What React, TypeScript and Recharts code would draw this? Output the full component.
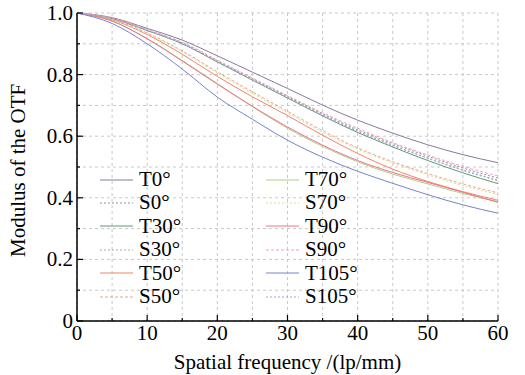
import { CartesianGrid, Legend, Line, LineChart, XAxis, YAxis } from 'recharts';

const freq = [0, 5, 10, 15, 20, 25, 30, 35, 40, 45, 50, 55, 60];

const t0 = [1.0, 0.985, 0.95, 0.912, 0.861, 0.808, 0.755, 0.701, 0.652, 0.61, 0.572, 0.54, 0.514];
const s0 = [1.0, 0.983, 0.945, 0.903, 0.845, 0.787, 0.729, 0.673, 0.621, 0.576, 0.535, 0.497, 0.464];
const t30 = [1.0, 0.982, 0.943, 0.9, 0.841, 0.782, 0.724, 0.666, 0.612, 0.565, 0.521, 0.481, 0.446];
const s30 = [1.0, 0.983, 0.944, 0.902, 0.843, 0.785, 0.727, 0.67, 0.617, 0.571, 0.529, 0.491, 0.457];
const t50 = [1.0, 0.978, 0.93, 0.866, 0.794, 0.728, 0.667, 0.603, 0.544, 0.493, 0.453, 0.42, 0.392];
const s50 = [1.0, 0.98, 0.935, 0.877, 0.809, 0.744, 0.681, 0.618, 0.562, 0.517, 0.479, 0.445, 0.416];
const t70 = [1.0, 0.974, 0.917, 0.846, 0.771, 0.696, 0.626, 0.567, 0.517, 0.477, 0.445, 0.414, 0.388];
const s70 = [1.0, 0.979, 0.932, 0.874, 0.805, 0.739, 0.676, 0.613, 0.558, 0.513, 0.475, 0.44, 0.411];
const t90 = [1.0, 0.974, 0.916, 0.844, 0.769, 0.697, 0.63, 0.571, 0.521, 0.482, 0.45, 0.418, 0.385];
const s90 = [1.0, 0.984, 0.946, 0.905, 0.847, 0.789, 0.732, 0.676, 0.626, 0.579, 0.539, 0.502, 0.471];
const t105 = [1.0, 0.966, 0.9, 0.818, 0.727, 0.655, 0.587, 0.532, 0.486, 0.447, 0.41, 0.377, 0.35];
const s105 = [1.0, 0.982, 0.943, 0.901, 0.842, 0.784, 0.726, 0.668, 0.616, 0.57, 0.528, 0.489, 0.455];

const xTicks = [0, 5, 10, 15, 20, 25, 30, 35, 40, 45, 50, 55, 60];
const yTicks = [0, 0.1, 0.2, 0.3, 0.4, 0.5, 0.6, 0.7, 0.8, 0.9, 1.0];
const yLabels: Record<string, string> = { '0': '0', '0.2': '0.2', '0.4': '0.4', '0.6': '0.6', '0.8': '0.8', '1': '1.0' };

const series = [
  { key: 'T0°', values: t0, color: '#8a7a9e', dash: undefined },
  { key: 'S0°', values: s0, color: '#9a8ca4', dash: '2 2' },
  { key: 'T30°', values: t30, color: '#5f9a72', dash: undefined },
  { key: 'S30°', values: s30, color: '#a2ae9c', dash: '2 2' },
  { key: 'T50°', values: t50, color: '#f2836c', dash: undefined },
  { key: 'S50°', values: s50, color: '#f3a08c', dash: '3 2' },
  { key: 'T70°', values: t70, color: '#a9d08a', dash: undefined },
  { key: 'S70°', values: s70, color: '#cfe08e', dash: '2 2' },
  { key: 'T90°', values: t90, color: '#ef7284', dash: undefined },
  { key: 'S90°', values: s90, color: '#f3a2b6', dash: '3 2' },
  { key: 'T105°', values: t105, color: '#7584cc', dash: undefined },
  { key: 'S105°', values: s105, color: '#a3a3de', dash: '2 2' },
];

const data = freq.map((f, i) => {
  const row: Record<string, number> = { f };
  series.forEach((s) => {
    row[s.key] = s.values[i];
  });
  return row;
});

const FONT = 'Liberation Serif, DejaVu Serif, Times New Roman, serif';

const BottomTick = (props: any) => {
  const { x, y, payload } = props;
  const major = payload.value % 10 === 0;
  return (
    <g>
      <line x1={x} y1={y} x2={x} y2={y - (major ? 6 : 3)} stroke='#000' strokeWidth={1.2} />
      {major && (
        <text x={x} y={y + 19} textAnchor='middle' fontSize={21} style={{ fontFamily: FONT }} fill='#000'>
          {payload.value}
        </text>
      )}
    </g>
  );
};

const TopTick = (props: any) => {
  const { x, y, payload } = props;
  const major = payload.value % 10 === 0;
  return <line x1={x} y1={y} x2={x} y2={y + (major ? 6 : 3)} stroke='#000' strokeWidth={1.2} />;
};

const LeftTick = (props: any) => {
  const { x, y, payload } = props;
  const label = yLabels[String(payload.value)];
  return (
    <g>
      <line x1={x} y1={y} x2={x + (label ? 6 : 3)} y2={y} stroke='#000' strokeWidth={1.2} />
      {label && (
        <text x={x - 4} y={y + 7} textAnchor='end' fontSize={21} style={{ fontFamily: FONT }} fill='#000'>
          {label}
        </text>
      )}
    </g>
  );
};

const RightTick = (props: any) => {
  const { x, y, payload } = props;
  const major = yLabels[String(payload.value)] !== undefined;
  return <line x1={x} y1={y} x2={x - (major ? 6 : 3)} y2={y} stroke='#000' strokeWidth={1.2} />;
};

const LegendBox = () => (
  <div style={{ display: 'flex', fontFamily: FONT, fontSize: 21, color: '#000' }}>
    {[series.slice(0, 6), series.slice(6)].map((col, ci) => (
      <div key={ci} style={{ width: 166 }}>
        {col.map((s) => (
          <div key={s.key} style={{ height: 23.4, lineHeight: '23.4px', display: 'flex', alignItems: 'center' }}>
            <svg width={37} height={10} style={{ marginRight: 2 }}>
              <line x1={0} y1={5} x2={33} y2={5} stroke={s.color} strokeWidth={1} strokeDasharray={s.dash} />
            </svg>
            <span>{s.key}</span>
          </div>
        ))}
      </div>
    ))}
  </div>
);

export default function App() {
  return (
    <div style={{ position: 'absolute', left: 0, top: 0, background: '#fff', fontFamily: FONT }}>
      <LineChart width={525} height={375} data={data} margin={{ top: 13, right: 27, left: 0, bottom: 0 }}>
        <CartesianGrid stroke='#c8c8c8' strokeDasharray='3 3' />
        <XAxis
          dataKey='f'
          type='number'
          domain={[0, 60]}
          ticks={xTicks}
          height={54}
          tickLine={false}
          tickSize={0}
          tickMargin={0}
          axisLine={{ stroke: '#000', strokeWidth: 1.5 }}
          tick={<BottomTick />}
          label={{ value: 'Spatial frequency /(lp/mm)', position: 'insideBottom', offset: 6, fontSize: 21, style: { fontFamily: FONT }, fill: '#000' }}
        />
        <XAxis
          xAxisId='top'
          orientation='top'
          dataKey='f'
          type='number'
          domain={[0, 60]}
          ticks={xTicks}
          height={0}
          tickLine={false}
          tickSize={0}
          tickMargin={0}
          axisLine={{ stroke: '#000', strokeWidth: 1.5 }}
          tick={<TopTick />}
        />
        <YAxis
          type='number'
          domain={[0, 1]}
          ticks={yTicks}
          width={77}
          tickLine={false}
          tickSize={0}
          tickMargin={0}
          axisLine={{ stroke: '#000', strokeWidth: 1.5 }}
          tick={<LeftTick />}
          label={{ value: 'Modulus of the OTF', angle: -90, position: 'insideLeft', offset: 18, dy: 90, fontSize: 21, style: { fontFamily: FONT }, fill: '#000' }}
        />
        <YAxis
          yAxisId='right'
          orientation='right'
          type='number'
          domain={[0, 1]}
          ticks={yTicks}
          width={0}
          tickLine={false}
          tickSize={0}
          tickMargin={0}
          axisLine={{ stroke: '#000', strokeWidth: 1.5 }}
          tick={<RightTick />}
        />
        <Legend
          layout='horizontal'
          verticalAlign='middle'
          align='center'
          content={<LegendBox />}
          wrapperStyle={{ position: 'absolute', left: 100, top: 168, width: 340, height: 145 }}
        />
        {series.map((s) => (
          <Line
            key={s.key}
            dataKey={s.key}
            type='monotone'
            stroke={s.color}
            strokeWidth={1}
            strokeDasharray={s.dash}
            dot={false}
            isAnimationActive={false}
          />
        ))}
      </LineChart>
    </div>
  );
}
